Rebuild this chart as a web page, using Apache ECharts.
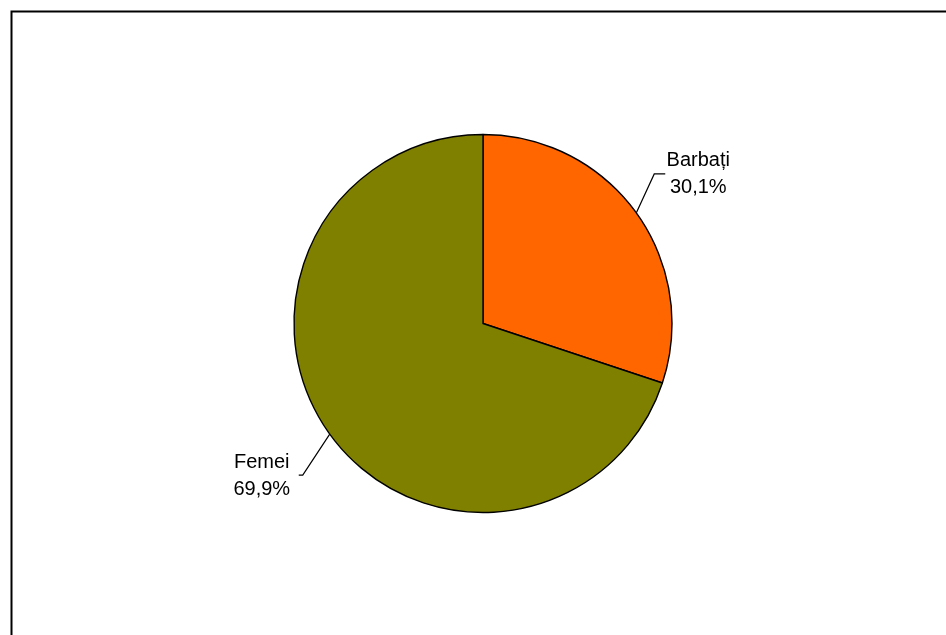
<!DOCTYPE html>
<html>
<head>
<meta charset="utf-8">
<script src="https://cdn.jsdelivr.net/npm/echarts@6/dist/echarts.min.js"></script>
<style>html,body{margin:0;padding:0;background:#fff}#c{width:946px;height:635px}</style>
</head>
<body>
<div id="c"></div>
<script>
const categories = ['Barbați', 'Femei'];
const values = [30.1, 69.9];
const colors = ['#FF6600', '#808000'];

const chart = echarts.init(document.getElementById('c'), null, {renderer: 'canvas'});
// label offsets relative to the pie edge anchor point
const labelOffsets = [
  {label: [62, -39], elbow: [18, -39], end: [29, -39]},
  {label: [-68, 42], elbow: [-27, 41], end: [-31, 41]}
];
chart.setOption({
  animation: false,
  backgroundColor: '#fff',
  graphic: [{
    type: 'rect', left: 9, top: 9, silent: true,
    shape: {x: 0, y: 0, width: 1000, height: 1000},
    style: {fill: 'none', stroke: '#000', lineWidth: 2}
  }],
  series: [{
    type: 'pie',
    center: [483, 323.5],
    radius: [0, 189],
    startAngle: 90,
    clockwise: true,
    data: categories.map((n, i) => ({name: n, value: values[i], itemStyle: {color: colors[i]}})),
    itemStyle: {borderColor: '#000', borderWidth: 1.4},
    emphasis: {disabled: true},
    label: {
      show: true,
      position: 'outside',
      formatter: p => p.name + '\n' + String(p.value).replace('.', ',') + '%',
      fontFamily: 'Liberation Sans, Arial, sans-serif',
      fontSize: 20,
      lineHeight: 27,
      color: '#000',
      align: 'center'
    },
    labelLine: {show: true, length: 20, length2: 10, smooth: false, lineStyle: {color: '#000', width: 1.2}},
    labelLayout: function (params) {
      const o = labelOffsets[params.dataIndex];
      const p0 = params.labelLinePoints[0];
      return {
        x: p0[0] + o.label[0],
        y: p0[1] + o.label[1],
        align: 'center',
        verticalAlign: 'middle',
        labelLinePoints: [
          [p0[0], p0[1]],
          [p0[0] + o.elbow[0], p0[1] + o.elbow[1]],
          [p0[0] + o.end[0], p0[1] + o.end[1]]
        ]
      };
    }
  }]
});
</script>
</body>
</html>
